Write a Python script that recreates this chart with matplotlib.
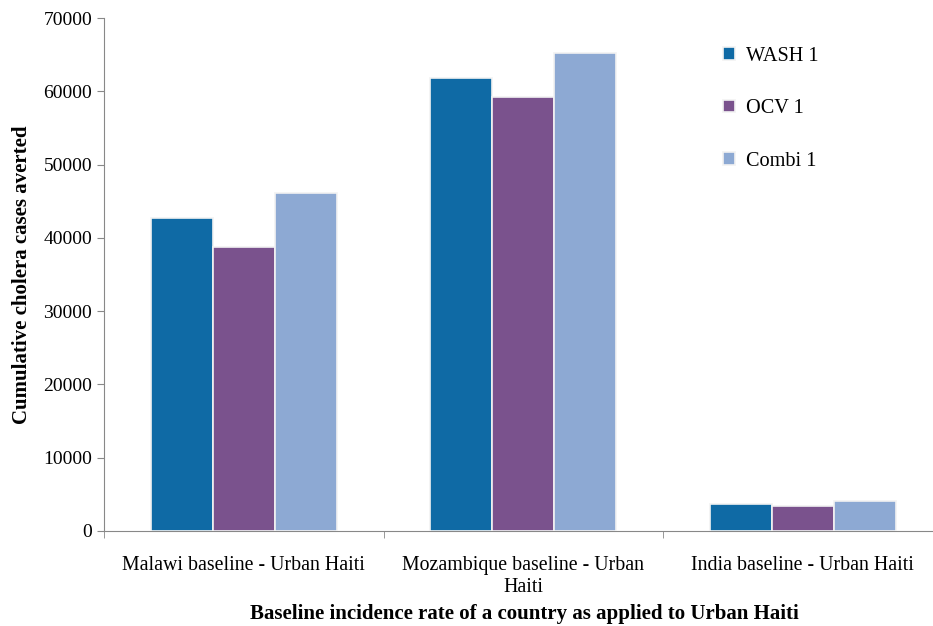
import numpy as np
import matplotlib.pyplot as plt

plt.rcParams['font.family'] = ['Liberation Serif', 'DejaVu Serif']

categories = ['Malawi baseline - Urban Haiti', 'Mozambique baseline - Urban\nHaiti',
              'India baseline - Urban Haiti']
series = ['WASH 1', 'OCV 1', 'Combi 1']
wash = [42700, 61800, 3700]
ocv = [38700, 59200, 3400]
combi = [46100, 65300, 4100]
colors = ['#0F6AA5', '#7A528D', '#8DA9D3']

fig = plt.figure(figsize=(9.33, 6.26), dpi=100)
ax = fig.add_axes([0.1115, 0.152, 1 - 0.1115, 0.819])

x = np.arange(len(categories))
w = 0.222
for i, (vals, name) in enumerate(zip([wash, ocv, combi], series)):
    ax.bar(x + (i - 1) * w, vals, w, color=colors[i], edgecolor='#f2f2f2',
           linewidth=1.2, label=name, zorder=3)

ax.set_yticks(np.arange(0, 70001, 10000))
ax.set_xticks(x)
ax.set_xticklabels(categories, fontsize=14.3, linespacing=1.25)
ax.set_xticks(np.arange(-0.5, 2.5, 1), minor=True)
ax.set_xlim(-0.5, 2.466)
ax.set_ylim(0, 70000)
ax.tick_params(axis='x', which='major', length=0, pad=18)
ax.tick_params(axis='x', which='minor', length=5, color='#888888')
ax.tick_params(axis='y', labelsize=14, length=5, color='#888888')

for s in ['top', 'right']:
    ax.spines[s].set_visible(False)
for s in ['left', 'bottom']:
    ax.spines[s].set_color('#888888')

ax.set_ylabel('Cumulative cholera cases averted', fontsize=15, fontweight='bold', labelpad=8)
ax.set_xlabel('Baseline incidence rate of a country as applied to Urban Haiti',
              fontsize=15, fontweight='bold')
ax.xaxis.set_label_coords(0.507, -0.142)

ax.legend(loc='upper left', bbox_to_anchor=(0.725, 0.98), frameon=False, fontsize=14.6,
          handlelength=0.6, handleheight=0.6, labelspacing=1.65, handletextpad=0.5)

fig.savefig('out.png', dpi=100)
